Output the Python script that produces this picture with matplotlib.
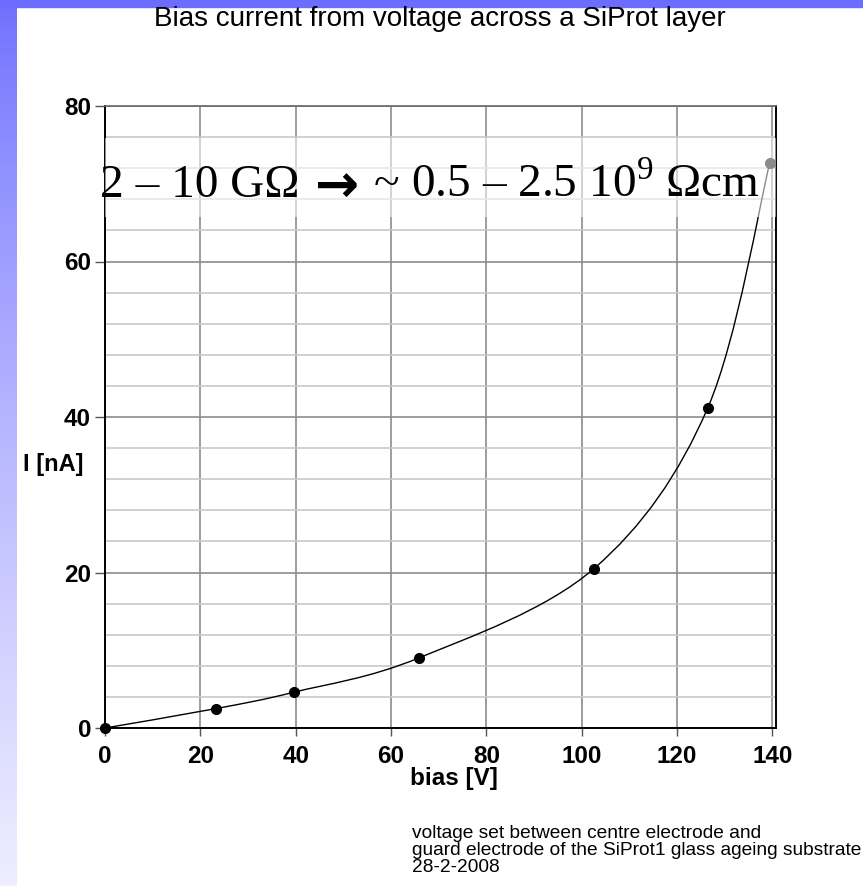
import numpy as np
import matplotlib
matplotlib.use('Agg')
import matplotlib.pyplot as plt
from matplotlib.path import Path
from matplotlib.patches import PathPatch, Rectangle

# measured points
bias = [0, 23.3, 39.6, 65.8, 102.6, 126.5, 139.5]
current = [0, 2.5, 4.6, 9.0, 20.5, 41.2, 72.7]

x_ticks = [0, 20, 40, 60, 80, 100, 120, 140]
y_ticks = [0, 20, 40, 60, 80]

title = 'Bias current from voltage across a SiProt layer'
note = ['voltage set between centre electrode and',
        'guard electrode of the SiProt1 glass ageing substrate',
        '28-2-2008']
resist_left = '2 \u2013 10 G\u03a9 '
resist_arrow = '\u2192'
resist_right = ' ~ 0.5 \u2013 2.5 10$^{9}$ \u03a9cm'

plt.rcParams['font.family'] = ['Liberation Sans', 'DejaVu Sans']
plt.rcParams['mathtext.fontset'] = 'custom'
plt.rcParams['mathtext.rm'] = 'Liberation Serif'

W, H = 863, 886
fig = plt.figure(figsize=(W / 100, H / 100), dpi=100)

# slide background: blue bar on top, gradient strip on the left
fig.patches.append(Rectangle((0, 1 - 7 / H), 1, 7 / H, transform=fig.transFigure,
                             color='#6c6cff', zorder=0))
bg = fig.add_axes([0, 0, 16 / W, 1 - 7 / H])
grad = np.linspace(0, 1, 256)[:, None] ** 0.8
c_top = np.array([0x70, 0x70, 0xff]) / 255
c_bot = np.array([0xee, 0xee, 0xff]) / 255
img = c_top[None, None, :] * (1 - grad[:, :, None]) + c_bot[None, None, :] * grad[:, :, None]
bg.imshow(img, aspect='auto')
bg.axis('off')

ax = fig.add_axes([105 / W, 1 - 728 / H, (776 - 105) / W, (728 - 106) / H])
ax.set_xlim(0, 140.8)
ax.set_ylim(0, 80)

ax.set_xticks(x_ticks)
ax.set_yticks(y_ticks)
ax.set_yticks(np.arange(0, 81, 4), minor=True)
ax.grid(which='minor', axis='y', color='#c8c8c8', lw=1.2)
ax.grid(which='major', axis='both', color='#8c8c8c', lw=1.2)
ax.set_axisbelow(True)
ax.tick_params(which='minor', length=0)
ax.tick_params(axis='y', which='major', length=7, width=1, color='#555555', pad=3)
ax.tick_params(axis='x', which='major', length=6, width=1, color='#555555', pad=6)
for lab in ax.get_xticklabels() + ax.get_yticklabels():
    lab.set_fontsize(17.5)
    lab.set_fontweight('bold')

for s in ['left', 'bottom', 'right']:
    ax.spines[s].set_color('black')
    ax.spines[s].set_linewidth(1.4)
ax.spines['top'].set_color('#666666')
ax.spines['top'].set_linewidth(1.2)

# smoothed line through the points (Catmull-Rom as cubic Bezier)
pts = np.column_stack([bias, current])
verts = [pts[0]]
codes = [Path.MOVETO]
n = len(pts)
for i in range(n - 1):
    p0 = pts[max(i - 1, 0)]
    p1 = pts[i]
    p2 = pts[i + 1]
    p3 = pts[min(i + 2, n - 1)]
    verts += [p1 + (p2 - p0) / 6, p2 - (p3 - p1) / 6, p2]
    codes += [Path.CURVE4] * 3
ax.add_patch(PathPatch(Path(verts, codes), facecolor='none', edgecolor='black',
                       lw=1.0, zorder=3, clip_on=False))
ax.plot(bias, current, 'o', color='black', ms=7, zorder=4, clip_on=False)

# semi transparent text box over the top of the plot
ax.add_patch(Rectangle((0, (728 - 217) / 622), 1, (217 - 138) / 622,
                       transform=ax.transAxes, facecolor='white', alpha=0.55,
                       edgecolor='none', zorder=5, clip_on=False))
serif = ['Liberation Serif', 'DejaVu Serif']
t1 = fig.text(100 / W, 1 - 197 / H, resist_left, fontsize=34, va='baseline',
              ha='left', family=serif, zorder=6)
fig.canvas.draw()
bb1 = t1.get_window_extent()
t2 = fig.text((bb1.x1 + 4) / W, 1 - 202 / H, resist_arrow, fontsize=38,
              fontweight='bold', family=['DejaVu Sans'], zorder=6,
              va='baseline', ha='left')
fig.canvas.draw()
bb2 = t2.get_window_extent()
t3 = fig.text((bb2.x1 + 2) / W, 1 - 197 / H, resist_right, fontsize=34,
              va='baseline', ha='left', family=serif, zorder=6)

fig.text(440 / W, 1 - 19 / H, title, fontsize=20, ha='center', va='center')
fig.text(454 / W, 1 - 779 / H, 'bias [V]', fontsize=17.5, fontweight='bold',
         ha='center', va='center')
fig.text(53 / W, 1 - 465 / H, 'I [nA]', fontsize=17, fontweight='bold',
         ha='center', va='center')
for k, line in enumerate(note):
    fig.text(412 / W, 1 - (833 + 17.5 * k) / H, line, fontsize=13.8,
             ha='left', va='center')

fig.savefig('out.png', dpi=100)
